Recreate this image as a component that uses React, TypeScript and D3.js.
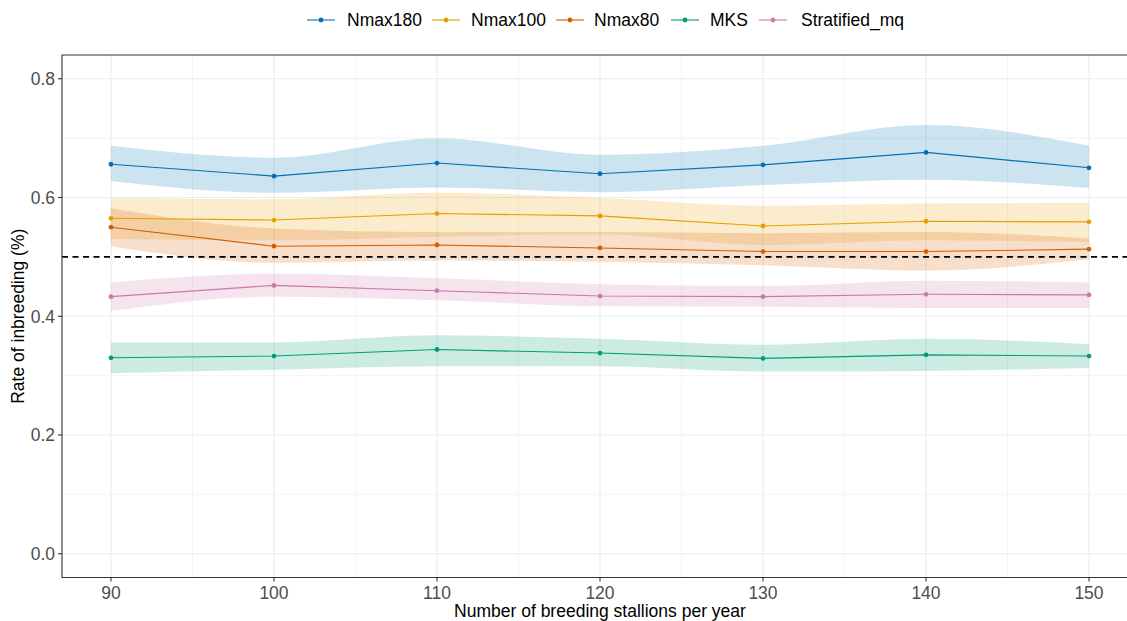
import React from 'react';
import * as d3 from 'd3';

const W = 1127;
const H = 621;

const stallions = [90, 100, 110, 120, 130, 140, 150];
const xTicks = [90, 100, 110, 120, 130, 140, 150];
const xMinor = [95, 105, 115, 125, 135, 145];
const yTicks = [0, 0.2, 0.4, 0.6, 0.8];
const yMinor = [0.1, 0.3, 0.5, 0.7];
const threshold = 0.5;

const seriesNames = ['Nmax180', 'Nmax100', 'Nmax80', 'MKS', 'Stratified_mq'];
const seriesColors = ['#0072B2', '#E69F00', '#D55E00', '#009E73', '#CC79A7'];

const nmax180Mean = [0.656, 0.636, 0.658, 0.640, 0.655, 0.676, 0.650];
const nmax180Low = [0.628, 0.608, 0.617, 0.609, 0.621, 0.630, 0.616];
const nmax180High = [0.687, 0.667, 0.700, 0.672, 0.687, 0.722, 0.687];

const nmax100Mean = [0.565, 0.562, 0.573, 0.569, 0.552, 0.560, 0.559];
const nmax100Low = [0.530, 0.528, 0.534, 0.538, 0.520, 0.528, 0.525];
const nmax100High = [0.599, 0.597, 0.608, 0.599, 0.586, 0.590, 0.591];

const nmax80Mean = [0.550, 0.518, 0.520, 0.515, 0.509, 0.509, 0.513];
const nmax80Low = [0.518, 0.490, 0.494, 0.492, 0.486, 0.477, 0.496];
const nmax80High = [0.582, 0.548, 0.542, 0.542, 0.540, 0.542, 0.531];

const mksMean = [0.330, 0.333, 0.344, 0.338, 0.329, 0.335, 0.333];
const mksLow = [0.304, 0.310, 0.316, 0.316, 0.307, 0.308, 0.313];
const mksHigh = [0.356, 0.356, 0.368, 0.362, 0.352, 0.362, 0.353];

const stratMean = [0.433, 0.452, 0.443, 0.434, 0.433, 0.437, 0.436];
const stratLow = [0.409, 0.433, 0.427, 0.417, 0.416, 0.414, 0.414];
const stratHigh = [0.457, 0.472, 0.464, 0.454, 0.451, 0.460, 0.457];

const means = [nmax180Mean, nmax100Mean, nmax80Mean, mksMean, stratMean];
const lows = [nmax180Low, nmax100Low, nmax80Low, mksLow, stratLow];
const highs = [nmax180High, nmax100High, nmax80High, mksHigh, stratHigh];

const panel = {left: 62, top: 55, bottom: 577.5};

const x = d3.scaleLinear().domain([87, 153]).range([62.1, 1137.9]);
const y = d3.scaleLinear().domain([-0.04, 0.84]).range([panel.bottom, panel.top]);

const font = '"Liberation Sans", Arial, sans-serif';
const fs = 17.5;

const ribbon = d3
  .area<number>()
  .x((d, i) => x(stallions[i]))
  .y0((d, i) => y(d))
  .curve(d3.curveMonotoneX);

const line = d3
  .line<number>()
  .x((d, i) => x(stallions[i]))
  .y(d => y(d));

export default function App() {
  const legendItems = [
    {keyX: 307, textX: 347},
    {keyX: 432, textX: 471},
    {keyX: 556, textX: 594},
    {keyX: 671, textX: 710},
    {keyX: 759, textX: 801},
  ];

  return (
    <svg
      width={W}
      height={H}
      style={{position: 'absolute', left: 0, top: 0, background: 'white'}}
      fontFamily={font}
    >
      <defs>
        <clipPath id="panel">
          <rect x={panel.left} y={panel.top} width={W - panel.left} height={panel.bottom - panel.top} />
        </clipPath>
      </defs>

      {/* grid */}
      <g stroke="#EBEBEB">
        {yMinor.map(v => (
          <line key={'ym' + v} x1={panel.left} x2={W} y1={y(v)} y2={y(v)} strokeWidth={0.55} />
        ))}
        {xMinor.map(v => (
          <line key={'xm' + v} x1={x(v)} x2={x(v)} y1={panel.top} y2={panel.bottom} strokeWidth={0.55} />
        ))}
        {yTicks.map(v => (
          <line key={'y' + v} x1={panel.left} x2={W} y1={y(v)} y2={y(v)} strokeWidth={1.1} />
        ))}
        {xTicks.map(v => (
          <line key={'x' + v} x1={x(v)} x2={x(v)} y1={panel.top} y2={panel.bottom} strokeWidth={1.1} />
        ))}
      </g>

      <g clipPath="url(#panel)">
        {/* ribbons */}
        {seriesNames.map((name, s) => (
          <path
            key={'r' + name}
            d={ribbon.y1((d, i) => y(highs[s][i]))(lows[s]) || ''}
            fill={seriesColors[s]}
            fillOpacity={0.2}
            stroke="none"
          />
        ))}

        {/* lines */}
        {seriesNames.map((name, s) => (
          <path key={'l' + name} d={line(means[s]) || ''} fill="none" stroke={seriesColors[s]} strokeWidth={1.1} />
        ))}

        {/* points */}
        {seriesNames.map((name, s) => (
          <g key={'p' + name} fill={seriesColors[s]}>
            {means[s].map((v, i) => (
              <circle key={i} cx={x(stallions[i])} cy={y(v)} r={2.4} />
            ))}
          </g>
        ))}

        <line
          x1={panel.left}
          x2={W}
          y1={y(threshold)}
          y2={y(threshold)}
          stroke="black"
          strokeWidth={1.9}
          strokeDasharray="6 4.5"
        />
      </g>

      {/* panel border (right side is cropped out of view) */}
      <path
        d={`M${W},${panel.top}H${panel.left}V${panel.bottom}H${W}`}
        fill="none"
        stroke="#333333"
        strokeWidth={1.1}
      />

      {/* y axis */}
      {yTicks.map(v => (
        <g key={'yt' + v}>
          <line x1={panel.left - 4} x2={panel.left} y1={y(v)} y2={y(v)} stroke="#333333" strokeWidth={1.1} />
          <text x={panel.left - 7} y={y(v)} dy="0.36em" textAnchor="end" fontSize={fs} fill="#4D4D4D">
            {d3.format('.1f')(v)}
          </text>
        </g>
      ))}
      <text
        transform={`translate(24,${(panel.top + panel.bottom) / 2}) rotate(-90)`}
        textAnchor="middle"
        fontSize={fs}
        fill="black"
      >
        Rate of inbreeding (%)
      </text>

      {/* x axis */}
      {xTicks.map(v => (
        <g key={'xt' + v}>
          <line x1={x(v)} x2={x(v)} y1={panel.bottom} y2={panel.bottom + 4} stroke="#333333" strokeWidth={1.1} />
          <text x={x(v)} y={panel.bottom + 21} textAnchor="middle" fontSize={fs} fill="#4D4D4D">
            {v}
          </text>
        </g>
      ))}
      <text x={600} y={617} textAnchor="middle" fontSize={fs} fill="black">
        Number of breeding stallions per year
      </text>

      {/* legend */}
      {seriesNames.map((name, s) => (
        <g key={'lg' + name}>
          <line
            x1={legendItems[s].keyX}
            x2={legendItems[s].keyX + 28}
            y1={20}
            y2={20}
            stroke={seriesColors[s]}
            strokeWidth={1.1}
          />
          <circle cx={legendItems[s].keyX + 14} cy={20} r={2.4} fill={seriesColors[s]} />
          <text x={legendItems[s].textX} y={20} dy="0.36em" fontSize={fs} fill="black">
            {name}
          </text>
        </g>
      ))}
    </svg>
  );
}
